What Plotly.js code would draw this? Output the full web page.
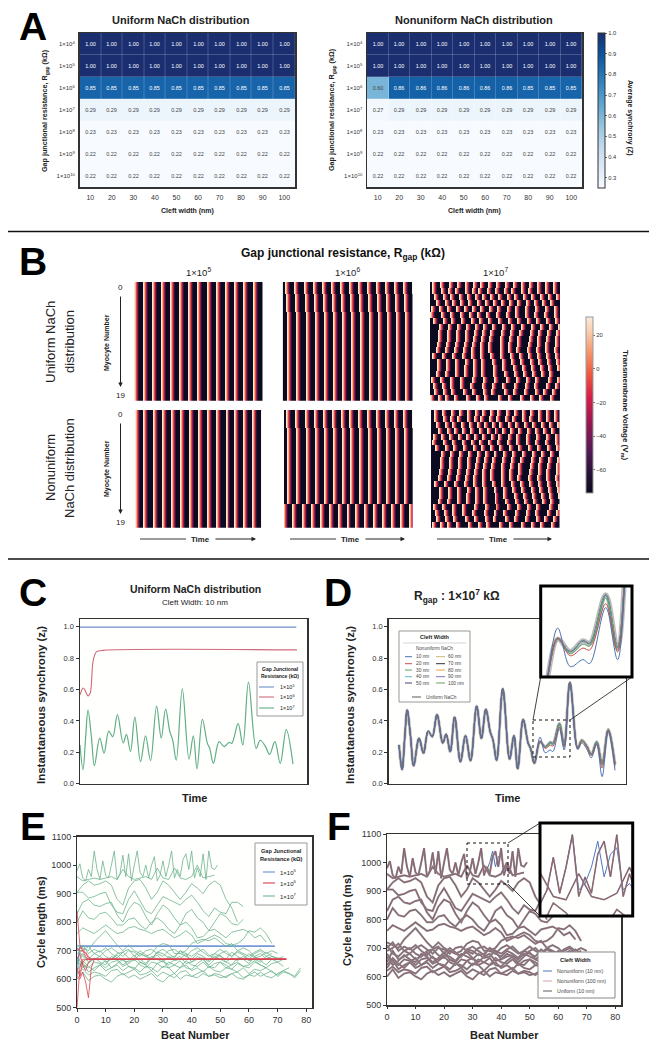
<!DOCTYPE html>
<html><head><meta charset="utf-8">
<script src="https://cdn.plot.ly/plotly-3.0.1.min.js"></script>
<style>html,body{margin:0;padding:0;background:#fff}#chart{width:659px;height:1050px}</style>
</head><body><div id="chart"></div>
<script>
// ---------- DATA ----------
const cleftWidths = ['10','20','30','40','50','60','70','80','90','100'];
const resistanceLabels = ['1×10<sup>4</sup>','1×10<sup>5</sup>','1×10<sup>6</sup>','1×10<sup>7</sup>','1×10<sup>8</sup>','1×10<sup>9</sup>','1×10<sup>10</sup>'];
const syncUniform = [
 [1,1,1,1,1,1,1,1,1,1],[1,1,1,1,1,1,1,1,1,1],
 [.85,.85,.85,.85,.85,.85,.85,.85,.85,.85],
 [.29,.29,.29,.29,.29,.29,.29,.29,.29,.29],
 [.23,.23,.23,.23,.23,.23,.23,.23,.23,.23],
 [.22,.22,.22,.22,.22,.22,.22,.22,.22,.22],
 [.22,.22,.22,.22,.22,.22,.22,.22,.22,.22]];
const syncNonuniform = [
 [1,1,1,1,1,1,1,1,1,1],[1,1,1,1,1,1,1,1,1,1],
 [.60,.86,.86,.86,.86,.86,.86,.85,.85,.85],
 [.27,.29,.29,.29,.29,.29,.29,.29,.29,.29],
 [.23,.23,.23,.23,.23,.23,.23,.23,.23,.23],
 [.22,.22,.22,.22,.22,.22,.22,.22,.22,.22],
 [.22,.22,.22,.22,.22,.22,.22,.22,.22,.22]];
// Panel B: onset bins of each action potential, per row
const onsetsU5 = [0,9,18,28,37,46,55,64,74,83,92,101,110,120];
const onsetsN5 = [0,9,19,28,37,46,56,65,74,83,93,102,111,120,129];
const onsetsR6 = [2,11,21,30,39,48,57,66,75,84,93,102,111,120,129];
const rowShiftU6 = [0,0,1,1,1,2,2,2,2,2,2,2,2,2,2,2,2,2,2,2];
const rowShiftN6 = [0,0,0,1,1,1,1,1,1,1,1,1,1,1,1,1,-3,-3,-3,-3];
const onsetsR7 = [
 [2,10,19,27,35,43,50,58,66,75,83,91,99,107,115,123],
 [2,11,18,25,35,42,48,57,65,74,81,91,98,107,115,123],
 [4,13,20,29,37,45,52,60,68,77,84,93,101,110,118,126],
 [6,15,22,30,38,47,55,63,71,79,87,96,104,112,120],
 [1,9,17,26,34,42,50,59,67,77,85,95,105,115,124],
 [0,11,20,30,39,47,56,66,76,85,95,104,114,124],
 [3,13,21,31,41,49,58,68,78,87,97,106,116,125],
 [9,18,27,36,45,53,62,72,81,91,101,110,119,128],
 [8,17,26,35,44,52,60,71,80,89,100,108,117,126],
 [8,17,26,35,43,51,59,70,79,87,99,107,116,125],
 [7,16,25,34,42,50,58,70,78,87,98,107,115,125],
 [6,15,24,33,41,50,58,70,78,86,97,106,115,124],
 [2,12,22,32,41,50,60,70,80,89,98,107,116,125],
 [7,16,25,35,43,51,62,72,81,90,100,108,117,126],
 [7,16,25,34,43,51,63,72,83,92,101,110,118,127],
 [6,15,25,34,43,51,63,74,84,93,102,111,119],
 [1,10,20,30,42,53,64,76,86,96,105,118,127],
 [3,12,20,30,40,52,62,72,84,95,104,116,125],
 [4,13,21,33,42,53,61,74,83,94,105,113,122],
 [0,8,15,24,36,46,54,68,78,90,100,109,120]];
const apProfile = [30,16,-6,-30,-60];
const restVoltage = -74;
// Panels C, D: instantaneous synchrony
const syncTime = [0,9,17,24,34,43,59,72,86,98,112,129,139,151,164,181,196,211,229,243,256,269,277,288,306,326,339,350,366,381,388,399,416,431,446,454,473,487,504,527,539,554,567,583,599,617,637];
const syncEarly = [.247,.09,.30,.47,.30,.115,.29,.195,.335,.30,.44,.26,.315,.205,.425,.14,.305,.147,.495,.29,.475,.33,.28,.15,.605,.157,.305,.095,.41,.257,.225];
const lateUniform = [.13,.268,.236,.264,.257,.383,.247,.647,.225,.277,.24,.187,.268,.13,.345,.125];
const late10nm = [.135,.297,.197,.215,.205,.35,.215,.64,.22,.26,.22,.165,.25,.045,.335,.085];
const late20nm = [.13,.272,.225,.245,.24,.36,.235,.645,.225,.27,.235,.18,.255,.10,.34,.11];
const late30nm = [.13,.27,.23,.255,.25,.375,.24,.647,.225,.275,.238,.185,.26,.115,.343,.12];
const synchronyRgap5Time = [0,647], synchronyRgap5 = [.998,.998];
const synchronyRgap6Time = [0,9,14,24,31,39,49,69,649], synchronyRgap6 = [.566,.61,.60,.56,.58,.78,.84,.85,.853];
const cleftLabelsLeft = ['10 nm','20 nm','30 nm','40 nm','50 nm'];
const cleftLabelsRight = ['60 nm','70 nm','80 nm','90 nm','100 nm'];
const cleftColors = ['#4c72b0','#c44e52','#55a868','#64b5cd','#4a3f7a','#ccb974','#333333','#f0a040','#8172b3','#6a9f58'];
// Panels E, F: cycle length per beat
const clJagged = [980,1005,955,945,985,960,1050,985,950,1015,965,955,1000,1050,950,970,1035,960,1040,945,1000,1050,975,960,1000,955,1000,1030,945,965,1015,960,1000,1050,955,985,960,1020,1040,985,1050,955,990,960,1040,950,1050,990,985,1000];
const clJaggedNu10 = [980,1005,955,945,985,960,1050,985,950,1015,965,955,1000,1050,950,970,1035,960,1040,945,1000,1050,975,960,1000,955,1000,1030,945,965,1015,960,1000,1050,965,975,1000,1040,985,1020,1030,965,975,960,1040,950,1050,990,985,1000];
const clSlow = [
 [960,945,950,955,950,955,960,950,985,960,950,955,960,950,990,955,950,990,955,950,960,1000,955,960,965],
 [905,930,945,930,935,945,930,880,860,920,945,950,920,880,905,945,930,905,880,905,935,920,900,930,945,930,880,850,800],
 [905,905,885,890,900,905,860,835,830,880,910,875,840,830,860,890,880,870,860,880,895,870,840,820,850,835,830,870,870,855],
 [830,870,880,860,855,865,870,825,800,845,870,860,820,790,830,860,845,815,790,830,845,815,800,770,800,830,820,795,790,810],
 [800,840,815,810,830,835,815,790,790,810,815,790,775,800,815,800,775,760,790,800,780,745,750,770,775,760,745,765,770,775,765,745,755,730],
 [760,780,770,760,775,790,775,760,765,780,785,775,770,760,770,775,760,745,755,770,755,725,735,745,755,745,725,720,725,740,770,765,780,760,725],
 [720,710,700,730,750,770,745,720,700,720,700,690,680,690,715,725,720,690,690,700,725,735,740,735,745,730,715,725,700,710,700,680,690,670,680,675,670],
 [690,700,715,690,680,700,710,695,680,700,695,680,700,705,690,680,700,705,690,680,700,710,695,680,690,705,690,680,700,690,680,695,705,690,700,690],
 [710,680,670,690,700,680,670,690,695,675,665,690,680,670,695,690,675,680,700,680,670,690,680,665,690,680,670,695,680,670,690,675,680,695,680,670,680],
 [650,690,660,670,680,660,670,685,665,660,675,670,655,680,670,660,680,665,670,690,660,670,675,660,680,670,660,675,665,680,665,670,660,680,670,660,670],
 [680,650,640,660,655,640,660,665,645,655,670,650,640,660,655,640,660,650,640,665,650,645,660,640,655,660,640,650,660,645,650,665,650,640,655,660,645],
 [630,660,625,640,650,630,640,650,630,645,640,625,645,640,625,645,640,620,640,650,630,640,625,645,630,625,640,635,625,640,620,635,630,640,625,615,630,640],
 [620,635,615,625,620,610,630,635,615,625,635,615,620,630,610,625,615,605,625,630,610,620,630,610,620,615,605,620,625,605,615,625,610,620,630,610,625,620,605,630],
 [600,625,595,610,615,600,590,610,620,605,615,600,610,620,600,590,610,620,600,615,610,605,620,610,615,605,610,620,605,600,615,610,625,610,605,620,630,620,610,640],
 [700,720,690,705,695,710,690,675,695,705,680,700,685,670,695,705,690,675,700,690,680,695,705,685,675,690,700,680,695,685,670,690,700,680,690],
 [670,640,655,675,660,650,680,670,650,665,685,660,650,675,685,665,650,670,680,655,660,680,670,650,670,685,660,650,675,670,655,680,665,650,670],
 [640,665,645,630,650,665,640,655,670,645,635,660,650,630,655,665,640,650,665,640,635,655,670,645,640,660,650,635,655,645,640,660,650,640]];
const clConvergeBeats = [0,1,2,3,4,5,6,73];
const clRgap6 = [
 [840,720,700,680,670,670,670,670],
 [500,640,670,670,670,670,670,670],
 [710,700,700,690,675,670,670,670],
 [700,710,705,695,680,670,670,670],
 [610,600,625,590,535,640,670,670],
 [640,610,660,668,670,670,670,670],
 [670,690,650,630,660,670,670,671]];
const clRgap5Beats = [0,1,69];
const clRgap5 = [[610,716,716],[650,716,716],[716,716,716]];
const beatTicks = [0,10,20,30,40,50,60,70,80];

// ---------- HELPERS ----------
const W=659,H=1050, FONT='"Liberation Sans", Arial, sans-serif', TXT='#222';
const px=x=>x/W, py=y=>1-y/H;
const traces=[], shapes=[], annotations=[];
const layout={width:W,height:H,margin:{l:0,r:0,t:0,b:0},paper_bgcolor:'#ffffff',plot_bgcolor:'#fffffe',
  showlegend:false,font:{family:FONT,color:TXT},shapes,annotations};
let axN=0;
function addAxes(x0,x1,y0,y1,xo,yo){
  axN++; const s=axN===1?'':axN;
  layout['xaxis'+s]=Object.assign({domain:[px(x0),px(x1)],anchor:'y'+s,showgrid:false,zeroline:false,showticklabels:false,ticks:'',fixedrange:true},xo||{});
  layout['yaxis'+s]=Object.assign({domain:[py(y1),py(y0)],anchor:'x'+s,showgrid:false,zeroline:false,showticklabels:false,ticks:'',fixedrange:true},yo||{});
  return {xaxis:'x'+s,yaxis:'y'+s};
}
function label(x,y,text,o){o=o||{};
  annotations.push({xref:'paper',yref:'paper',x:px(x),y:py(y),text:o.bold?'<b>'+text+'</b>':text,showarrow:false,
   xanchor:o.anchor||'center',yanchor:'middle',textangle:o.angle||0,font:{size:o.size||7,color:o.color||TXT,family:FONT},borderpad:0,borderwidth:0});
}
function rect(x0,y0,x1,y1,line,fill,dash,width){shapes.push({type:'rect',xref:'paper',yref:'paper',x0:px(x0),x1:px(x1),y0:py(y0),y1:py(y1),
   line:{color:line,width:width||1,dash:dash||'solid'},fillcolor:fill||'rgba(0,0,0,0)',layer:'above'});}
function seg(x0,y0,x1,y1,color,width,dash){shapes.push({type:'line',xref:'paper',yref:'paper',x0:px(x0),x1:px(x1),y0:py(y0),y1:py(y1),line:{color:color,width:width||1,dash:dash||'solid'},layer:'above'});}
function arrow(x0,y0,x1,y1){annotations.push({xref:'paper',yref:'paper',x:px(x1),y:py(y1),ax:x0-x1,ay:y0-y1,text:'',showarrow:true,arrowhead:2,arrowsize:.9,arrowwidth:1,arrowcolor:'#222'});}
const frame={showline:true,mirror:true,linecolor:'#333',linewidth:1.5};

// ---------- PANEL A ----------
const blues=[[0,'#f7fbff'],[.125,'#deebf7'],[.25,'#c6dbef'],[.375,'#9ecae1'],[.5,'#6baed6'],[.625,'#4292c6'],[.75,'#2171b5'],[.875,'#08519c'],[1,'#1b2f70']];
function syncHeat(z,x0,x1,withBar){
  const ax=addAxes(x0,x1,33,187,
    Object.assign({},frame,{type:'category',showticklabels:true,tickfont:{size:7,color:'#333'},ticks:'outside',ticklen:3,tickcolor:'rgba(255,255,255,0)'}),
    Object.assign({},frame,{type:'category',autorange:'reversed',showticklabels:true,tickfont:{size:6,color:'#333'},ticks:'outside',ticklen:2,tickcolor:'rgba(255,255,255,0)'}));
  const t=Object.assign({type:'heatmap',x:cleftWidths,y:resistanceLabels,z:z,zmin:.25,zmax:1,colorscale:blues,xgap:.2,ygap:.2,
    texttemplate:'%{z:.2f}',textfont:{size:5.5,family:FONT},hoverinfo:'skip',showscale:!!withBar},ax);
  if(withBar)t.colorbar={x:px(598),xanchor:'left',y:py(110.5),yanchor:'middle',lenmode:'pixels',len:155,thickness:7,xpad:0,ypad:0,
    outlinecolor:'#333',outlinewidth:1,tickvals:[.3,.4,.5,.6,.7,.8,.9,1],ticktext:['0.3','0.4','0.5','0.6','0.7','0.8','0.9','1.0'],
    tickfont:{size:5.8,color:'#333'},ticklen:2,tickwidth:.7,tickcolor:'#333'};
  traces.push(t);
}
syncHeat(syncUniform,79.5,295,false);
syncHeat(syncNonuniform,367,582,true);
label(33,26,'A',{size:39,bold:true,color:'#000'});
label(181,20,'Uniform NaCh distribution',{size:11,bold:true});
label(474,20,'Nonuniform NaCh distribution',{size:11,bold:true});
label(187,211,'Cleft width (nm)',{size:7,bold:true});
label(474,211,'Cleft width (nm)',{size:7,bold:true});
const rgapA='Gap junctional resistance, R<sub>gap</sub> (kΩ)';
label(45,110,rgapA,{size:7.2,bold:true,angle:-90});
label(332,110,rgapA,{size:7.2,bold:true,angle:-90});
label(630,118,'Average synchrony (Z)',{size:7,bold:true,angle:90});

seg(8,231.5,649,231.5,'#111',1.5);
seg(8,559,649,559,'#111',1.5);

// ---------- PANEL B ----------
function voltageMatrix(onsetRows){
  return onsetRows.map(onsets=>{
    const row=new Array(130).fill(restVoltage);
    onsets.forEach(b=>apProfile.forEach((v,i)=>{if(b+i>=0&&b+i<130)row[b+i]=v;}));
    return row;
  });
}
const rowsFrom=(onsets,shifts)=>shifts.map(s=>onsets.map(b=>b+s));
const zeros20=new Array(20).fill(0);
const rocket=[[0,'#0b0a20'],[.12,'#2a1238'],[.25,'#561a57'],[.4,'#98174f'],[.55,'#d81f47'],[.68,'#ee5a3f'],[.8,'#f6966a'],[.92,'#f9cfae'],[1,'#faebdd']];
function voltHeat(rows,x0,x1,y0,y1,withBar){
  const ax=addAxes(x0,x1,y0,y1,{range:[-.5,129.5]},{range:[19.5,-.5]});
  const t=Object.assign({type:'heatmap',z:voltageMatrix(rows),zmin:-74,zmax:31,colorscale:rocket,hoverinfo:'skip',showscale:!!withBar},ax);
  if(withBar)t.colorbar={x:px(586),xanchor:'left',y:py(405),yanchor:'middle',lenmode:'pixels',len:176,thickness:7,xpad:0,ypad:0,
    outlinecolor:'#999',outlinewidth:1,tickvals:[-60,-40,-20,0,20],tickfont:{size:5.8,color:'#333'},ticklen:2,tickwidth:.7,tickcolor:'#333'};
  traces.push(t);
}
voltHeat(rowsFrom(onsetsU5,zeros20),133.7,262.7,282,400.7,false);
voltHeat(rowsFrom(onsetsR6,rowShiftU6),282.7,412.7,282,400.7,false);
voltHeat(onsetsR7,430,560,282,400.7,true);
voltHeat(rowsFrom(onsetsN5,zeros20),134.7,261.7,410,527.7,false);
voltHeat(rowsFrom(onsetsR6,rowShiftN6),284,412.7,410,527.7,false);
voltHeat(onsetsR7.map(r=>r.map(b=>b+1)),431,559.5,410,527.7,false);
label(33,261,'B',{size:39,bold:true,color:'#000'});
label(343,254,'Gap junctional resistance, R<sub>gap</sub> (kΩ)',{size:12,bold:true,color:'#111'});
label(198,272,'1×10<sup>5</sup>',{size:9.5});
label(347,272,'1×10<sup>6</sup>',{size:9.5});
label(495,272,'1×10<sup>7</sup>',{size:9.5});
label(50,342,'Uniform NaCh',{size:13,angle:-90});
label(69,342,'distribution',{size:13,angle:-90});
label(50,468,'Nonuniform',{size:13,angle:-90});
label(69,468,'NaCh distribution',{size:13,angle:-90});
label(107,342,'Myocyte Number',{size:7,bold:true,angle:-90});
label(107,468,'Myocyte Number',{size:7,bold:true,angle:-90});
label(120,287,'0',{size:8}); label(120,395,'19',{size:8});
label(120,414,'0',{size:8}); label(120,522,'19',{size:8});
arrow(120.5,295,120.5,387); arrow(120.5,422,120.5,514);
[[140,256,200],[290,405,350],[437,552,498]].forEach(a=>{
  label(a[2],539,'Time',{size:7.8,bold:true});
  seg(a[0],539,a[2]-14,539,'#222',.9);
  arrow(a[2]+14,539,a[1],539);
});
label(625,405,'Transmembrane Voltage (V<sub>m</sub>)',{size:8,bold:true,angle:90});

// ---------- PANEL C ----------
const lineAxisY={range:[0,1.05],tickvals:[0,.2,.4,.6,.8,1],ticktext:['0.0','0.2','0.4','0.6','0.8','1.0'],showticklabels:true,ticks:'outside',ticklen:3,tickcolor:'#333',tickfont:{size:7.5,color:'#333'}};
const axC=addAxes(80,307,619,783.7,Object.assign({},frame,{range:[0,679]}),Object.assign({},frame,lineAxisY));
const uniformSeries=syncEarly.concat(lateUniform);
function lineTrace(ax,x,y,color,width,extra){return Object.assign({type:'scatter',mode:'lines',x:x,y:y,line:Object.assign({color:color,width:width},extra||{}),hoverinfo:'skip'},ax);}
traces.push(lineTrace(axC,synchronyRgap5Time,synchronyRgap5,'#6d8fc9',1.1));
traces.push(lineTrace(axC,synchronyRgap6Time,synchronyRgap6,'#cf6a78',1.1,{shape:'spline',smoothing:.8}));
traces.push(lineTrace(axC,syncTime,uniformSeries,'#5fae84',1.2,{shape:'spline',smoothing:1}));
label(33,592,'C',{size:39,bold:true,color:'#000'});
label(195,589,'Uniform NaCh distribution',{size:10.5,bold:true});
label(195,602,'Cleft Width: 10 nm',{size:8});
label(42,705,'Instantaneous synchrony (z<sub>i</sub>)',{size:11.5,bold:true,angle:-90});
label(194,798,'Time',{size:11,bold:true});
rect(257,662,303,716,'#999','#ffffff');
label(280,669,'Gap Junctional',{size:5,bold:true}); label(280,676,'Resistance (kΩ)',{size:5,bold:true});
[['1×10<sup>5</sup>','#6d8fc9',687],['1×10<sup>6</sup>','#cf6a78',697],['1×10<sup>7</sup>','#5fae84',708]].forEach(r=>{
  seg(259,r[2],274,r[2],r[1],1.1); label(280,r[2],r[0],{size:5.5,anchor:'left'});
});

// ---------- PANEL D ----------
const axD=addAxes(388.7,625.7,619,783.7,Object.assign({},frame,{range:[-30.5,668.6]}),Object.assign({},frame,lineAxisY));
const axDi=addAxes(540.7,632,586,677,{range:[396,504]},{range:[.17,.406]});
const seriesD=[late10nm,late20nm,late30nm,lateUniform,lateUniform,lateUniform,lateUniform,lateUniform,lateUniform,lateUniform].map(l=>syncEarly.concat(l));
[[axD,1,3],[axDi,1,5]].forEach(c=>{
  traces.push(lineTrace(c[0],syncTime,uniformSeries,'rgba(150,150,150,.65)',c[2],{shape:'spline',smoothing:1}));
  for(let i=9;i>=0;i--) traces.push(lineTrace(c[0],syncTime,seriesD[i],cleftColors[i],i<3?c[1]:c[1]*.8,{shape:'spline',smoothing:1}));
});
label(338,592,'D',{size:39,bold:true,color:'#000'});
label(457,596,'R<sub>gap</sub> : 1×10<sup>7</sup> kΩ',{size:12,bold:true});
label(351,705,'Instantaneous synchrony (z<sub>i</sub>)',{size:11.5,bold:true,angle:-90});
label(507,798,'Time',{size:11,bold:true});
rect(399,631,470,702,'#999','#ffffff');
label(434.5,637,'Cleft Width',{size:5.5,bold:true});
seg(403,643,466,643,'#bbb',.6);
label(434.5,648,'Nonuniform NaCh',{size:4.6,color:'#444'});
[656.7,663.7,670,676.7,683].forEach((y,i)=>{
  seg(405,y,412,y,cleftColors[i],1); label(416,y,cleftLabelsLeft[i],{size:4.8,anchor:'left',color:'#444'});
  seg(436,y,445,y,cleftColors[i+5],1); label(448,y,cleftLabelsRight[i],{size:4.8,anchor:'left',color:'#444'});
});
seg(412,697,421,697,'#999',1.6); label(426,697,'Uniform NaCh',{size:4.8,anchor:'left',color:'#444'});
rect(533,720,570,757,'#111',null,'dot');
seg(533,720,540.7,677,'#111',.8); seg(570,720,632,677,'#111',.8);
rect(540.7,586,632,677,'#000',null,'solid',3);

// ---------- PANEL E ----------
const cycleX=Object.assign({},frame,{range:[0,82],tickvals:beatTicks,showticklabels:true,ticks:'outside',ticklen:2.5,tickcolor:'#333',tickfont:{size:9,color:'#333'}});
const cycleY=Object.assign({},frame,{range:[500,1100],dtick:100,showticklabels:true,ticks:'outside',ticklen:2.5,tickcolor:'#333',tickfont:{size:9,color:'#333'}});
const axE=addAxes(77,312,836.7,1007.7,cycleX,cycleY);
const beatsOf=(arr,step)=>arr.map((_,i)=>i*step);
const GREEN='#6cb48c',RED='#d8414f',BLUE='#6b90d6';
clRgap5.forEach(c=>traces.push(lineTrace(axE,clRgap5Beats,c,BLUE,.9)));
traces.push(lineTrace(axE,beatsOf(clJagged,1),clJagged,GREEN,.8));
clSlow.forEach(c=>traces.push(lineTrace(axE,beatsOf(c,2),c,GREEN,.8)));
clRgap6.forEach(c=>traces.push(lineTrace(axE,clConvergeBeats,c,RED,.8)));
label(33,826,'E',{size:39,bold:true,color:'#000'});
label(41,922,'Cycle length (ms)',{size:11,bold:true,angle:-90});
label(195,1035,'Beat Number',{size:11,bold:true});
rect(255,843,307,905,'#999','#ffffff');
label(281,851,'Gap Junctional',{size:5.6,bold:true}); label(281,859,'Resistance (kΩ)',{size:5.6,bold:true});
[['1×10<sup>5</sup>',BLUE,872],['1×10<sup>6</sup>',RED,883],['1×10<sup>7</sup>',GREEN,896]].forEach(r=>{
  seg(263,r[2],275,r[2],r[1],1.1); label(280,r[2],r[0],{size:6,anchor:'left'});
});

// ---------- PANEL F ----------
const axF=addAxes(387,621,834,1005,cycleX,cycleY);
const axFi=addAxes(540,632.7,823,916,{range:[27.9,42.5]},{range:[925,1068]});
const F_GRAY='#8d8a8c',F_RED='#8f5f72',F_BLUE='#4f74c0';
[[axF,1,2],[axFi,1,1.6]].forEach(c=>{
  traces.push(lineTrace(c[0],beatsOf(clJaggedNu10,1),clJaggedNu10,F_BLUE,c[1]));
  traces.push(lineTrace(c[0],beatsOf(clJagged,1),clJagged,F_GRAY,c[2]));
  traces.push(lineTrace(c[0],beatsOf(clJagged,1),clJagged,F_RED,c[1]));
  clSlow.forEach(s=>{
    traces.push(lineTrace(c[0],beatsOf(s,2),s,F_GRAY,c[2]));
    traces.push(lineTrace(c[0],beatsOf(s,2),s,F_RED,c[1]));
  });
});
label(339,826,'F',{size:39,bold:true,color:'#000'});
label(347,920,'Cycle length (ms)',{size:11,bold:true,angle:-90});
label(504,1035,'Beat Number',{size:11,bold:true});
rect(467,843,508,884,'#111',null,'dot');
seg(508,843,540,823,'#111',.8); seg(508,884,540,916,'#111',.8);
rect(540,823,632.7,916,'#000',null,'solid',3);
rect(538,952,615,998,'#888','#ffffff');
label(575,960,'Cleft Width',{size:5.8,bold:true});
[['Nonuniform (10 nm)',F_BLUE,971,1],['Nonuniform (100 nm)','#d9a0a8',981,1],['Uniform (10 nm)','#999',991,1.6]].forEach(r=>{
  seg(543,r[2],552,r[2],r[1],r[3]); label(557,r[2],r[0],{size:5.2,anchor:'left',color:'#444'});
});

Plotly.newPlot('chart',traces,layout,{staticPlot:true,displayModeBar:false});
</script></body></html>
